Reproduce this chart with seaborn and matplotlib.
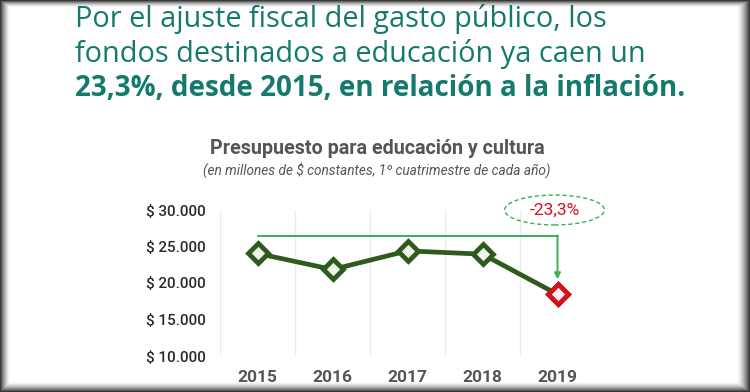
import numpy as np
import pandas as pd
import matplotlib
matplotlib.use("Agg")
import matplotlib.pyplot as plt
import seaborn as sns
from matplotlib.patches import Ellipse

# data
years = ["2015", "2016", "2017", "2018", "2019"]
budget = [24050, 21850, 24400, 23950, 18450]
y_ticks = [10000, 15000, 20000, 25000, 30000]
y_labels = ["$ 10.000", "$ 15.000", "$ 20.000", "$ 25.000", "$ 30.000"]
drop_label = "-23,3%"
arrow_level = 26500
arrow_tip = 20500

headline = [
    "Por el ajuste fiscal del gasto público, los",
    "fondos destinados a educación ya caen un",
    "23,3%, desde 2015, en relación a la inflación.",
]
chart_title = "Presupuesto para educación y cultura"
chart_sub = "(en millones de $ constantes, 1º cuatrimestre de cada año)"

teal = "#137a6d"
dark_green = "#2e5a1c"
light_green = "#3cae57"
red = "#d7101e"
grey = "#555555"

sns.set_style("white")
plt.rcParams["font.family"] = ["Roboto", "DejaVu Sans"]

fig = plt.figure(figsize=(7.5, 3.92), dpi=100)
fig.patch.set_facecolor("white")

# headline text
W, H = 750, 392
head_font = ["Open Sans", "DejaVu Sans"]
fig.text(75 / W, 1 - 27 / H, headline[0], fontsize=20.8, color=teal,
         family=head_font, weight="normal", va="baseline")
fig.text(75 / W, 1 - 62 / H, headline[1], fontsize=20.8, color=teal,
         family=head_font, weight="normal", va="baseline")
fig.text(75 / W, 1 - 96 / H, headline[2], fontsize=20, color=teal,
         family=head_font, weight="bold", va="baseline")

# chart titles
fig.text(377 / W, 1 - 154 / H, chart_title, fontsize=14.2, color=grey,
         weight="bold", ha="center", va="baseline")
fig.text(377 / W, 1 - 170 / H, chart_sub, fontsize=9.8, color=grey,
         style="italic", ha="center", va="center")

# main chart
ax = fig.add_axes([220 / W, 1 - 356 / H, 375 / W, 146 / H])
df = pd.DataFrame({"year": years, "budget": budget})
sns.lineplot(data=df, x="year", y="budget", ax=ax, sort=False,
             color=dark_green, linewidth=3.4, marker="D", markersize=10,
             markerfacecolor="#eef6e8", markeredgecolor=dark_green,
             markeredgewidth=3.4, zorder=4)
last = df.iloc[[-1]]
ax.plot(last["year"], last["budget"], linestyle="none", marker="D",
        markersize=10, markerfacecolor="#fcf0f0", markeredgecolor=red,
        markeredgewidth=3.4, zorder=5)

ax.set_xlim(-0.5, len(years) - 0.5)
ax.set_ylim(y_ticks[0], y_ticks[-1])
ax.set_yticks(y_ticks)
ax.set_yticklabels(y_labels)
ax.set_xticks(range(len(years)))
ax.set_xticklabels(years)
ax.set_xticks(np.arange(-0.5, len(years)), minor=True)
ax.xaxis.grid(True, which="minor", color="#ececec", linewidth=1)
ax.yaxis.grid(False)
ax.tick_params(axis="both", which="both", length=0)
ax.tick_params(axis="y", pad=10, labelsize=11, labelcolor="#2b2b2b")
ax.tick_params(axis="x", pad=10, labelsize=12.5, labelcolor=grey)
for lab in ax.get_xticklabels():
    lab.set_fontweight("bold")
for lab in ax.get_yticklabels():
    lab.set_fontweight("medium")
ax.set_xlabel("")
ax.set_ylabel("")
sns.despine(ax=ax, left=True, bottom=True)

# arrow from 2015 level to 2019
ax.plot([0, len(years) - 1], [arrow_level, arrow_level], color=light_green,
        linewidth=1.4, zorder=3)
ax.annotate("", xy=(len(years) - 1, arrow_tip),
            xytext=(len(years) - 1, arrow_level),
            arrowprops=dict(arrowstyle="-|>", color=light_green, lw=1.4,
                            mutation_scale=9, shrinkA=0, shrinkB=0))

# dashed ellipse with the drop
ax.add_patch(Ellipse((len(years) - 1 - 0.04, y_ticks[-1]), width=1.33,
                     height=4100, fill=False, edgecolor=light_green,
                     linestyle=(0, (3, 2)), linewidth=1, clip_on=False))
ax.text(len(years) - 1 - 0.04, y_ticks[-1], drop_label, color=red,
        fontsize=12.5, ha="center", va="center")

# dark vignette frame around the picture
yy, xx = np.mgrid[0:H, 0:W]
def edge(d, w):
    return np.clip(1 - d / w, 0, 1) ** 1.6
alpha = np.maximum.reduce([edge(xx, 10), edge(W - 1 - xx, 13),
                           edge(yy, 7), edge(H - 1 - yy, 10)])
rgba = np.zeros((H, W, 4))
rgba[..., :3] = 0.18
rgba[..., 3] = alpha * 0.95
over = fig.add_axes([0, 0, 1, 1], zorder=10)
over.imshow(rgba, aspect="auto", interpolation="nearest")
over.axis("off")

fig.savefig("out.png", dpi=100)
